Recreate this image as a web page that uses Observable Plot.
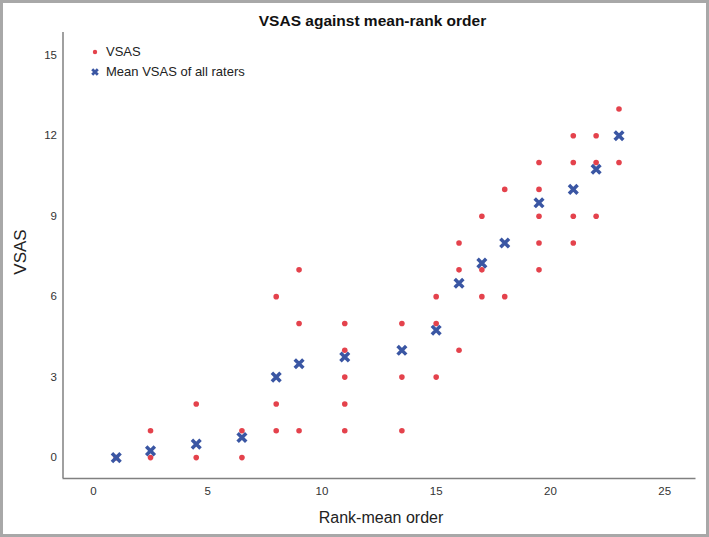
<!DOCTYPE html>
<html><head><meta charset="utf-8">
<script src="https://cdn.jsdelivr.net/npm/d3@7"></script>
<script src="https://cdn.jsdelivr.net/npm/@observablehq/plot@0.6"></script>
<style>
body{margin:0;background:#fff;font-family:"Liberation Sans",Arial,sans-serif;}
#wrap{position:relative;width:709px;height:537px;box-sizing:border-box;border:3px solid #a8a8a8;background:#fff;overflow:hidden}
#title{height:28px;box-sizing:border-box;padding-top:8px;padding-left:36px;line-height:20px;text-align:center;font-weight:bold;font-size:15.5px;color:#111}
.lbl{position:absolute;font-size:16px;color:#222;white-space:nowrap;line-height:1}
.leg{position:absolute;font-size:13px;color:#222;white-space:nowrap;line-height:1;display:flex;align-items:center}
.leg svg{margin-right:5px}
</style></head>
<body>
<div id="wrap">
  <div id="title">VSAS against mean-rank order</div>
  <div id="chart"></div>
  <div class="lbl" style="left:378px;top:515px;transform:translate(-50%,-50%)">Rank-mean order</div>
  <div class="lbl" style="left:17px;top:249px;transform:translate(-50%,-50%) rotate(-90deg);font-size:17px">VSAS</div>
  <div class="leg" id="leg1" style="left:86px;top:42px"></div>
  <div class="leg" id="leg2" style="left:86px;top:62px"></div>
</div>
<script>
// Individual rater VSAS scores (rank position, score)
const vsasRank = [1, 2.5, 2.5, 4.5, 4.5, 6.5, 6.5, 8, 8, 8, 9, 9, 9, 11, 11, 11, 11, 11, 13.5, 13.5, 13.5, 15, 15, 15, 16, 16, 16, 17, 17, 17, 18, 18, 19.5, 19.5, 19.5, 19.5, 19.5, 21, 21, 21, 21, 22, 22, 22, 23, 23];
const vsasScore = [0, 1, 0, 2, 0, 1, 0, 6, 2, 1, 7, 5, 1, 5, 4, 3, 2, 1, 5, 3, 1, 6, 5, 3, 8, 7, 4, 9, 7, 6, 10, 6, 11, 10, 9, 8, 7, 12, 11, 9, 8, 12, 11, 9, 13, 11];
// Mean VSAS of all raters
const meanRank = [1, 2.5, 4.5, 6.5, 8, 9, 11, 13.5, 15, 16, 17, 18, 19.5, 21, 22, 23];
const meanScore = [0, 0.25, 0.5, 0.75, 3, 3.5, 3.75, 4, 4.75, 6.5, 7.25, 8, 9.5, 10, 10.75, 12];
const xTicks = [0, 5, 10, 15, 20, 25];
const yTicks = [0, 3, 6, 9, 12, 15];
const seriesNames = ["VSAS", "Mean VSAS of all raters"];

const red = "#e4424c", blue = "#3a56a3";
const vsasData = vsasRank.map((r, i) => ({rank: r, vsas: vsasScore[i]}));
const meanData = meanRank.map((r, i) => ({rank: r, mean: meanScore[i]}));
const xDomain = [-1.33, 26.37], yDomain = [-0.78, 15.85];

const chart = Plot.plot({
  width: 703, height: 503,
  marginTop: 1, marginBottom: 56, marginLeft: 59.5, marginRight: 10.5,
  x: {domain: xDomain},
  y: {domain: yDomain},
  style: {fontFamily: "Liberation Sans, Arial, sans-serif", fontSize: "11.5px", color: "#333", background: "transparent"},
  marks: [
    Plot.axisX({ticks: xTicks, tickSize: 0, tickPadding: 8, label: null}),
    Plot.axisY({ticks: yTicks, tickSize: 0, tickPadding: 6, label: null}),
    Plot.ruleX([xDomain[0]], {stroke: "#808080", strokeWidth: 1.5}),
    Plot.ruleY([yDomain[0]], {stroke: "#808080", strokeWidth: 1.5}),
    Plot.dot(vsasData, {x: "rank", y: "vsas", r: 2.8, fill: red, stroke: null}),
    Plot.dot(meanData, {x: "rank", y: "mean", symbol: "times", r: 4, stroke: blue, strokeWidth: 3.5})
  ]
});
document.getElementById("chart").appendChild(chart);

document.getElementById("leg1").innerHTML =
  `<svg width="12" height="12"><circle cx="6" cy="6" r="2.2" fill="${red}"/></svg><span>${seriesNames[0]}</span>`;
document.getElementById("leg2").innerHTML =
  `<svg width="12" height="12"><path d="M3.2,3.2L8.8,8.8M8.8,3.2L3.2,8.8" stroke="${blue}" stroke-width="2.8"/></svg><span>${seriesNames[1]}</span>`;
</script>
</body></html>
